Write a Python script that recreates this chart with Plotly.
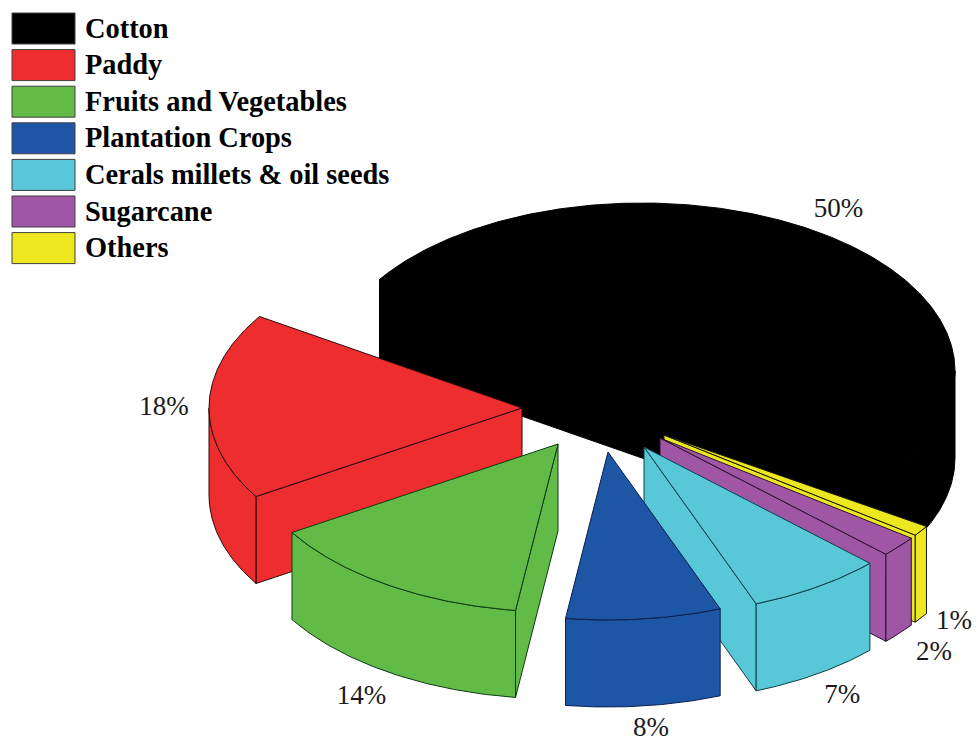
import numpy as np
import plotly.graph_objects as go

# ---- data ----
categories = ["Cotton", "Paddy", "Fruits and Vegetables", "Plantation Crops",
              "Cerals millets & oil seeds", "Sugarcane", "Others"]
shares = [50, 18, 14, 8, 7, 2, 1]

# ---- styles and layout ----
colors = ["#000000", "#EE2E2E", "#62BB46", "#1E56A6", "#58C8D8", "#9F57A5", "#EDE720"]
edges = ["#000000", "#2a0a0a", "#0c3a12", "#0a1f50", "#0c4048", "#2a0f30", "#1a1a00"]
explode = [(0, 0), (-120, 37), (-84, 73), (-34, 81), (2, 76), (18, 67), (22, 64)]
label_shift = [(26, -20), (-45, 2), (-26, 25), (7, 23), (25, 22), (35, 20), (33, 4)]
ANGLE_ORDER = [1, 2, 3, 4, 5, 6, 0]     # way round the pie, counter-clockwise
DRAW_ORDER = [0, 1, 2, 6, 5, 4, 3]      # back to front
START = 147.0
CX, CY, RX, RY, DEPTH = 642, 371, 313, 168, 87
FONT = "Liberation Serif"
PAGE_MARGIN = 8   # the page body offsets the plot by this much

spans = {}
angle = START
for i in ANGLE_ORDER:
    spans[i] = (angle, angle + shares[i] * 3.6)
    angle += shares[i] * 3.6


def rim(a0, a1, cx, cy, drop=0.0):
    t = np.radians(np.linspace(a0, a1, max(int(abs(a1 - a0)) * 2, 2)))
    return cx + RX * np.cos(t), cy - RY * np.sin(t) + drop


def face(x, y, color, edge, name, group):
    return go.Scatter(x=list(x), y=list(y), mode="lines", fill="toself", fillcolor=color,
                      line=dict(color=edge, width=1), name=name, legendgroup=group,
                      showlegend=False, hoverinfo="name")


fig = go.Figure()
for i in DRAW_ORDER:
    a0, a1 = spans[i]
    cx, cy = CX + explode[i][0], CY + explode[i][1]
    name = f"{categories[i]}: {shares[i]}%"
    # cut faces, only those turned towards the viewer
    for a, normal in ((a0, a0 - 90), (a1, a1 + 90)):
        if np.sin(np.radians(normal)) < 0:
            ox, oy = rim(a, a, cx, cy)
            fig.add_trace(face([cx, ox[0], ox[0], cx, cx],
                               [cy, oy[0], oy[0] + DEPTH, cy + DEPTH, cy],
                               colors[i], edges[i], name, categories[i]))
    # outer wall: the part of the arc on the near half
    lo, hi = max(a0, 180), min(a1, 360)
    if hi > lo:
        tx, ty = rim(lo, hi, cx, cy)
        bx, by = rim(hi, lo, cx, cy, DEPTH)
        fig.add_trace(face(np.r_[tx, bx, tx[0]], np.r_[ty, by, ty[0]],
                           colors[i], edges[i], name, categories[i]))
    # top face
    tx, ty = rim(a0, a1, cx, cy)
    fig.add_trace(face(np.r_[cx, tx, cx], np.r_[cy, ty, cy], colors[i], edges[i], name, categories[i]))

# percentage labels
lx, ly, lt = [], [], []
for i in range(len(categories)):
    a0, a1 = spans[i]
    mid = np.radians((a0 + a1) / 2)
    bottom = DEPTH if np.sin(mid) < 0 else 0
    lx.append(CX + explode[i][0] + RX * np.cos(mid) + label_shift[i][0])
    ly.append(CY + explode[i][1] - RY * np.sin(mid) + bottom + label_shift[i][1])
    lt.append(f"{shares[i]}%")
fig.add_trace(go.Scatter(x=lx, y=ly, text=lt, mode="text", showlegend=False, hoverinfo="skip",
                         textfont=dict(family=FONT, size=27, color="#1a1a1a")))

# key
shapes, notes = [], []
for i, cat in enumerate(categories):
    top = 13 + 36.6 * i
    shapes.append(dict(type="rect", xref="x", yref="y", x0=12, x1=75, y0=top, y1=top + 31,
                       fillcolor=colors[i], line=dict(color="#404040", width=1)))
    notes.append(dict(xref="x", yref="y", x=83, y=top + 15, text=f"<b>{cat}</b>", showarrow=False,
                      xanchor="left", yanchor="middle",
                      font=dict(family=FONT, size=28.4, color="#000000")))

fig.update_layout(width=980 - PAGE_MARGIN, height=742 - PAGE_MARGIN, autosize=False,
                  margin=dict(l=0, r=0, t=0, b=0),
                  paper_bgcolor="white", plot_bgcolor="white", showlegend=False,
                  shapes=shapes, annotations=notes,
                  xaxis=dict(range=[PAGE_MARGIN, 980], visible=False, fixedrange=True),
                  yaxis=dict(range=[742, PAGE_MARGIN], visible=False, fixedrange=True))
fig.write_html("out.html", config=dict(displayModeBar=False))
